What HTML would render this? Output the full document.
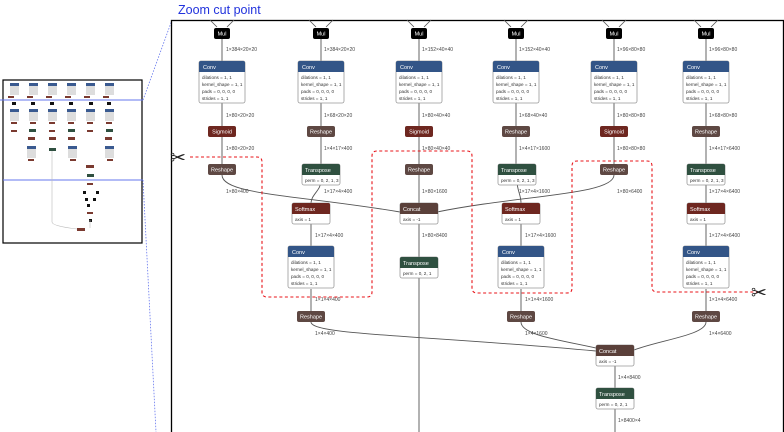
<!DOCTYPE html>
<html><head><meta charset="utf-8"><style>
html,body{margin:0;padding:0;background:#fff;}
svg{display:block;font-family:"Liberation Sans",sans-serif;}
.h{fill:#fff;font-size:5.5px}
.a{fill:#333;font-size:4.6px}
.l{fill:#444;font-size:5px}
.e{stroke:#555;stroke-width:0.9;fill:none}
</style></head><body>
<svg width="784" height="432" viewBox="0 0 784 432" xmlns="http://www.w3.org/2000/svg">
<defs>
<g id="conv"><rect x="-23" y="0" width="46" height="42" rx="2" fill="#fff" stroke="#999" stroke-width="0.8"/><path d="M-23,2 a2,2 0 0 1 2,-2 h42 a2,2 0 0 1 2,2 v9 h-46z" fill="#335587"/><text x="-19" y="8" class="h">Conv</text><text x="-20" y="18" class="a">dilations = 1, 1</text><text x="-20" y="25" class="a">kernel_shape = 1, 1</text><text x="-20" y="32" class="a">pads = 0, 0, 0, 0</text><text x="-20" y="39" class="a">strides = 1, 1</text></g>
<g id="mul"><path d="M-12,-8 L-5,-1 M12,-8 L5,-1" stroke="#555" stroke-width="0.8"/><rect x="-8" y="0" width="16" height="11" rx="2" fill="#000"/><text x="0" y="7.5" class="h" text-anchor="middle">Mul</text></g>
<g id="resh"><rect x="-14" y="0" width="28" height="11" rx="2" fill="#5e4843"/><text x="0" y="7.5" class="h" text-anchor="middle">Reshape</text></g>
<g id="sig"><rect x="-14" y="0" width="28" height="11" rx="2" fill="#6e2720"/><text x="0" y="7.5" class="h" text-anchor="middle">Sigmoid</text></g>
<g id="trans"><rect x="-19" y="0" width="38" height="21" rx="2" fill="#fff" stroke="#999" stroke-width="0.8"/><path d="M-19,2 a2,2 0 0 1 2,-2 h34 a2,2 0 0 1 2,2 v9 h-38z" fill="#2f5040"/><text x="-16" y="8" class="h">Transpose</text><text x="-16" y="18" class="a">perm = 0, 2, 1, 3</text></g>
<g id="trans3"><rect x="-19" y="0" width="38" height="21" rx="2" fill="#fff" stroke="#999" stroke-width="0.8"/><path d="M-19,2 a2,2 0 0 1 2,-2 h34 a2,2 0 0 1 2,2 v9 h-38z" fill="#2f5040"/><text x="-16" y="8" class="h">Transpose</text><text x="-16" y="18" class="a">perm = 0, 2, 1</text></g>
<g id="soft"><rect x="-19" y="0" width="38" height="21" rx="2" fill="#fff" stroke="#999" stroke-width="0.8"/><path d="M-19,2 a2,2 0 0 1 2,-2 h34 a2,2 0 0 1 2,2 v9 h-38z" fill="#6e2720"/><text x="-16" y="8" class="h">Softmax</text><text x="-16" y="18" class="a">axis = 1</text></g>
<g id="cat"><rect x="-19" y="0" width="38" height="21" rx="2" fill="#fff" stroke="#999" stroke-width="0.8"/><path d="M-19,2 a2,2 0 0 1 2,-2 h34 a2,2 0 0 1 2,2 v9 h-38z" fill="#5a403a"/><text x="-16" y="8" class="h">Concat</text><text x="-16" y="18" class="a">axis = -1</text></g>
</defs>

<text x="178" y="14" fill="#2233dd" font-size="12.5">Zoom cut point</text>

<!-- thumbnail -->
<rect x="3" y="80" width="139" height="163" fill="#fff" stroke="#000" stroke-width="1.2"/>
<line x1="0" y1="100" x2="143" y2="100" stroke="#6677ee" stroke-width="1"/>
<line x1="3" y1="180" x2="143" y2="180" stroke="#6677ee" stroke-width="1"/>
<line x1="143" y1="100" x2="172" y2="20" stroke="#6677ee" stroke-width="0.8" stroke-dasharray="1.5,1.5"/>
<line x1="143" y1="180" x2="156" y2="432" stroke="#6677ee" stroke-width="0.8" stroke-dasharray="1.5,1.5"/>
<g fill="#3a5a90">
<rect x="10" y="83" width="9" height="3"/><rect x="29" y="83" width="9" height="3"/><rect x="48" y="83" width="9" height="3"/><rect x="67" y="83" width="9" height="3"/><rect x="86" y="83" width="9" height="3"/><rect x="105" y="83" width="9" height="3"/>
<rect x="10" y="109" width="9" height="3"/><rect x="29" y="109" width="9" height="3"/><rect x="48" y="109" width="9" height="3"/><rect x="67" y="109" width="9" height="3"/><rect x="86" y="109" width="9" height="3"/><rect x="105" y="109" width="9" height="3"/>
<rect x="27" y="146" width="9" height="3"/><rect x="68" y="146" width="9" height="3"/><rect x="105" y="146" width="9" height="3"/>
</g>
<g fill="#ddd"><rect x="10" y="86" width="9" height="9"/><rect x="29" y="86" width="9" height="9"/><rect x="48" y="86" width="9" height="9"/><rect x="67" y="86" width="9" height="9"/><rect x="86" y="86" width="9" height="9"/><rect x="105" y="86" width="9" height="9"/>
<rect x="10" y="112" width="9" height="9"/><rect x="29" y="112" width="9" height="9"/><rect x="48" y="112" width="9" height="9"/><rect x="67" y="112" width="9" height="9"/><rect x="86" y="112" width="9" height="9"/><rect x="105" y="112" width="9" height="9"/>
<rect x="27" y="149" width="9" height="9"/><rect x="68" y="149" width="9" height="9"/><rect x="105" y="149" width="9" height="9"/></g>
<g fill="#7a3a30"><rect x="8" y="96" width="6" height="2"/><rect x="27" y="96" width="6" height="2"/><rect x="46" y="96" width="6" height="2"/><rect x="65" y="96" width="6" height="2"/><rect x="84" y="96" width="6" height="2"/><rect x="103" y="96" width="6" height="2"/>
<rect x="11" y="122" width="6" height="2"/><rect x="30" y="122" width="6" height="2"/><rect x="49" y="122" width="6" height="2"/><rect x="68" y="122" width="6" height="2"/><rect x="87" y="122" width="6" height="2"/><rect x="106" y="122" width="6" height="2"/>
<rect x="11" y="130" width="6" height="2"/><rect x="49" y="130" width="6" height="2"/><rect x="87" y="130" width="6" height="2"/>
<rect x="28" y="137" width="7" height="3"/><rect x="49" y="137" width="7" height="3"/><rect x="68" y="137" width="7" height="3"/><rect x="105" y="137" width="7" height="3"/>
<rect x="28" y="159" width="6" height="2"/><rect x="70" y="159" width="6" height="2"/><rect x="107" y="159" width="6" height="2"/>
<rect x="86" y="165" width="8" height="3"/><rect x="87" y="183" width="6" height="2"/><rect x="87" y="212" width="6" height="2"/><rect x="77" y="228" width="8" height="3"/></g>
<g fill="#2f5040"><rect x="29" y="129" width="7" height="3"/><rect x="68" y="129" width="7" height="3"/><rect x="106" y="129" width="7" height="3"/><rect x="49" y="148" width="7" height="3"/><rect x="87" y="174" width="7" height="3"/></g>
<g fill="#111"><rect x="12" y="102" width="4" height="3"/><rect x="31" y="102" width="4" height="3"/><rect x="50" y="102" width="4" height="3"/><rect x="69" y="102" width="4" height="3"/><rect x="89" y="102" width="4" height="3"/><rect x="107" y="102" width="4" height="3"/>
<rect x="83" y="191" width="3" height="3"/><rect x="96" y="191" width="3" height="3"/><rect x="85" y="198" width="3" height="3"/><rect x="93" y="198" width="3" height="3"/><rect x="87" y="204" width="3" height="3"/><rect x="89" y="219" width="3" height="3"/></g>
<path d="M52,151 V222 Q52,226 77,229 M90,220 V228" stroke="#bbb" stroke-width="0.6" fill="none"/>

<!-- main frame -->
<rect x="171.5" y="20.5" width="612" height="420" fill="none" stroke="#000" stroke-width="1.3"/>

<g class="e">
<path d="M222,39V61 M222,103V126 M222,137V164"/>
<path d="M321,39V61 M321,103V126 M321,137V164"/>
<path d="M419,39V61 M419,103V126 M419,137V164 M419,175V203 M419,224V257 M419,278V432"/>
<path d="M516,39V61 M516,103V126 M516,137V164"/>
<path d="M614,39V61 M614,103V126 M614,137V164"/>
<path d="M706,39V61 M706,103V126 M706,137V164 M706,181V203 M706,224V246 M706,289V311"/>
<path d="M311,224V246 M311,289V311 M521,224V246 M521,289V311"/>
<path d="M615,366V388 M615,409V432"/>
<path d="M222,175 C222,195 300,195 400,212"/>
<path d="M614,175 C614,195 520,195 437,212"/>
<path d="M321,181 C321,190 311,195 311,203"/>
<path d="M517,181 C517,190 521,195 521,203"/>
<path d="M311,322 C311,335 420,335 596,351"/>
<path d="M521,322 C521,335 560,340 596,348"/>
<path d="M706,322 C706,335 660,340 634,350"/>
</g>

<use href="#mul" x="222" y="28"/><use href="#mul" x="321" y="28"/><use href="#mul" x="419" y="28"/><use href="#mul" x="516" y="28"/><use href="#mul" x="614" y="28"/><use href="#mul" x="706" y="28"/>
<use href="#conv" x="222" y="61"/><use href="#conv" x="321" y="61"/><use href="#conv" x="419" y="61"/><use href="#conv" x="516" y="61"/><use href="#conv" x="614" y="61"/><use href="#conv" x="706" y="61"/>
<use href="#sig" x="222" y="126"/><use href="#resh" x="321" y="126"/><use href="#sig" x="419" y="126"/><use href="#resh" x="516" y="126"/><use href="#sig" x="614" y="126"/><use href="#resh" x="706" y="126"/>
<use href="#resh" x="222" y="164"/><use href="#trans" x="321" y="164"/><use href="#resh" x="419" y="164"/><use href="#trans" x="517" y="164"/><use href="#resh" x="614" y="164"/><use href="#trans" x="706" y="164"/>
<use href="#soft" x="311" y="203"/><use href="#cat" x="419" y="203"/><use href="#soft" x="521" y="203"/><use href="#soft" x="706" y="203"/>
<use href="#conv" x="311" y="246"/><use href="#trans3" x="419" y="257"/><use href="#conv" x="521" y="246"/><use href="#conv" x="706" y="246"/>
<use href="#resh" x="311" y="311"/><use href="#resh" x="521" y="311"/><use href="#resh" x="706" y="311"/>
<use href="#cat" x="615" y="345"/><use href="#trans3" x="615" y="388"/>

<g class="l">
<text x="226" y="51">1×384×20×20</text><text x="324" y="51">1×384×20×20</text><text x="422" y="51">1×152×40×40</text><text x="519" y="51">1×152×40×40</text><text x="617" y="51">1×96×80×80</text><text x="709" y="51">1×96×80×80</text>
<text x="226" y="117">1×80×20×20</text><text x="324" y="117">1×68×20×20</text><text x="422" y="117">1×80×40×40</text><text x="519" y="117">1×68×40×40</text><text x="617" y="117">1×80×80×80</text><text x="709" y="117">1×68×80×80</text>
<text x="226" y="150">1×80×20×20</text><text x="324" y="150">1×4×17×400</text><text x="422" y="150">1×80×40×40</text><text x="519" y="150">1×4×17×1600</text><text x="617" y="150">1×80×80×80</text><text x="709" y="150">1×4×17×6400</text>
<text x="226" y="193">1×80×400</text><text x="324" y="193">1×17×4×400</text><text x="422" y="193">1×80×1600</text><text x="519" y="193">1×17×4×1600</text><text x="617" y="193">1×80×6400</text><text x="709" y="193">1×17×4×6400</text>
<text x="315" y="237">1×17×4×400</text><text x="422" y="237">1×80×8400</text><text x="525" y="237">1×17×4×1600</text><text x="709" y="237">1×17×4×6400</text>
<text x="315" y="301">1×1×4×400</text><text x="525" y="301">1×1×4×1600</text><text x="709" y="301">1×1×4×6400</text>
<text x="315" y="335">1×4×400</text><text x="525" y="335">1×4×1600</text><text x="709" y="335">1×4×6400</text>
<text x="618" y="379">1×4×8400</text><text x="618" y="422">1×8400×4</text>
</g>

<path d="M190,157 H257 Q262,157 262,162 V292 Q262,297 267,297 H367 Q372,297 372,292 V156 Q372,151 377,151 H467 Q472,151 472,156 V288 Q472,293 477,293 H567 Q572,293 572,288 V166 Q572,161 577,161 H647 Q652,161 652,166 V287 Q652,292 657,292 H760" fill="none" stroke="#e8141a" stroke-width="1.1" stroke-dasharray="3,2.5"/>
<text x="170" y="164" font-size="19" fill="#222">✂</text>
<text x="751" y="299" font-size="19" fill="#222">✂</text>
</svg>
</body></html>
